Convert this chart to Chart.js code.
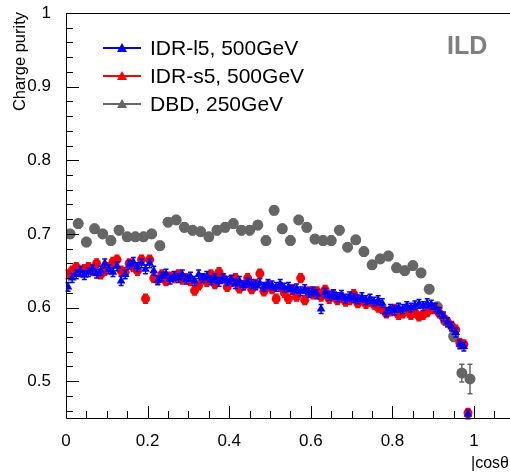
<!DOCTYPE html>
<html>
<head>
<meta charset="utf-8">
<script src="https://cdn.jsdelivr.net/npm/chart.js@4.4.1/dist/chart.umd.min.js"></script>
<style>
  body { margin: 0; background: #fff; }
  #wrap { width: 510px; height: 476px; position: relative; }
</style>
</head>
<body>
<div id="wrap"><canvas id="myChart"></canvas></div>
<script>
// bin centres (0.01 wide for IDR, 0.02 wide for DBD)
const fineBins = Array.from({ length: 100 }, (_, i) => +(0.005 + 0.01 * i).toFixed(3));
const coarseBins = Array.from({ length: 50 }, (_, i) => +(0.01 + 0.02 * i).toFixed(2));

const idrL5 = [
  0.628, 0.640, 0.645, 0.650, 0.644, 0.648, 0.652, 0.646, 0.650, 0.660,
  0.652, 0.648, 0.656, 0.636, 0.645, 0.658, 0.662, 0.655, 0.660, 0.652,
  0.660, 0.650, 0.637, 0.642, 0.646, 0.638, 0.643, 0.640, 0.645, 0.638,
  0.642, 0.636, 0.645, 0.640, 0.643, 0.637, 0.640, 0.635, 0.640, 0.636,
  0.638, 0.632, 0.636, 0.630, 0.634, 0.632, 0.630, 0.633, 0.628, 0.632,
  0.630, 0.628, 0.632, 0.627, 0.628, 0.624, 0.626, 0.622, 0.625, 0.620,
  0.622, 0.618, 0.598, 0.620, 0.616, 0.618, 0.614, 0.617, 0.612, 0.615,
  0.613, 0.611, 0.614, 0.610, 0.612, 0.608, 0.610, 0.606, 0.594, 0.598,
  0.596, 0.600, 0.598, 0.602, 0.600, 0.603, 0.605, 0.602, 0.606, 0.604,
  0.600, 0.594, 0.588, 0.580, 0.574, 0.566, 0.550, 0.547, 0.455, null
];
const idrS5 = [
  0.645, 0.650, 0.655, 0.648, 0.652, 0.655, 0.650, 0.660, 0.645, 0.650,
  0.655, 0.662, 0.665, 0.650, 0.648, 0.660, 0.655, 0.650, 0.665, 0.612,
  0.665, 0.640, 0.638, 0.645, 0.636, 0.642, 0.640, 0.645, 0.638, 0.640,
  0.636, 0.623, 0.630, 0.640, 0.635, 0.645, 0.632, 0.648, 0.640, 0.628,
  0.635, 0.640, 0.626, 0.630, 0.640, 0.625, 0.632, 0.646, 0.622, 0.630,
  0.625, 0.612, 0.628, 0.620, 0.612, 0.625, 0.615, 0.640, 0.610, 0.622,
  0.618, 0.622, 0.615, 0.624, 0.612, 0.618, 0.610, 0.614, 0.608, 0.610,
  0.618, 0.606, 0.610, 0.605, 0.608, 0.604, 0.600, 0.598, 0.592, 0.595,
  0.598, 0.590, 0.592, 0.596, 0.590, 0.593, 0.588, 0.590, 0.594, 0.598,
  0.598, 0.592, 0.586, 0.580, 0.575, 0.570, 0.552, 0.550, 0.457, null
];
const dbd = [
  0.700, 0.714, 0.689, 0.707, 0.700, 0.691, 0.705, 0.696, 0.696, 0.696,
  0.700, 0.684, 0.716, 0.719, 0.709, 0.705, 0.703, 0.696, 0.705, 0.709,
  0.714, 0.705, 0.705, 0.712, 0.691, 0.732, 0.707, 0.691, 0.719, 0.709,
  0.693, 0.691, 0.691, 0.705, 0.682, 0.692, 0.676, 0.658, 0.666, 0.670,
  0.654, 0.650, 0.657, 0.647, 0.625, 0.601, 0.582, 0.561, 0.511, 0.503
];
const idrErr = 0.006;
const dbdErr = [
  0.006, 0.006, 0.006, 0.006, 0.006, 0.006, 0.006, 0.006, 0.006, 0.006,
  0.006, 0.006, 0.006, 0.006, 0.006, 0.006, 0.006, 0.006, 0.006, 0.006,
  0.006, 0.006, 0.006, 0.006, 0.006, 0.006, 0.006, 0.006, 0.006, 0.006,
  0.006, 0.006, 0.006, 0.006, 0.006, 0.006, 0.006, 0.006, 0.006, 0.006,
  0.006, 0.006, 0.006, 0.006, 0.006, 0.006, 0.006, 0.007, 0.012, 0.020
];

const xTicks = [0, 0.2, 0.4, 0.6, 0.8, 1];
const yTicks = [0.5, 0.6, 0.7, 0.8, 0.9, 1];
const legendNames = ["IDR-l5, 500GeV", "IDR-s5, 500GeV", "DBD, 250GeV"];
const colors = ["#0000ff", "#ff0000", "#666666"];

const FONT = "'Liberation Sans', Arial, Helvetica, sans-serif";

const toPoints = (xs, ys) => xs.map((x, i) => ({ x: x, y: ys[i] })).filter((p) => p.y !== null);

// error bars, drawn under each dataset's markers
const errorBars = {
  id: "errorBars",
  beforeDatasetDraw(chart, args) {
    const ds = chart.data.datasets[args.index];
    const { ctx, scales } = chart;
    ctx.save();
    ctx.strokeStyle = ds.borderColor;
    ctx.lineWidth = 1.5;
    ds.data.forEach((p, i) => {
      const e = Array.isArray(ds.errors) ? ds.errors[i] : ds.errors;
      const px = scales.x.getPixelForValue(p.x);
      const top = scales.y.getPixelForValue(p.y + e);
      const bot = scales.y.getPixelForValue(p.y - e);
      ctx.beginPath();
      ctx.moveTo(px, top);
      ctx.lineTo(px, bot);
      ctx.moveTo(px - 2.5, top);
      ctx.lineTo(px + 2.5, top);
      ctx.moveTo(px - 2.5, bot);
      ctx.lineTo(px + 2.5, bot);
      ctx.stroke();
    });
    ctx.restore();
  },
};

// ROOT-like frame with inner ticks, legend and titles
const frame = {
  id: "frame",
  afterDraw(chart) {
    const { ctx, chartArea: a, scales } = chart;
    ctx.save();
    ctx.strokeStyle = "#000";
    ctx.lineWidth = 1;
    ctx.beginPath();
    ctx.moveTo(a.left + 0.5, a.top + 0.5);
    ctx.lineTo(a.right, a.top + 0.5);
    ctx.moveTo(a.left + 0.5, a.top);
    ctx.lineTo(a.left + 0.5, a.bottom + 0.5);
    ctx.lineTo(a.right, a.bottom + 0.5);
    // x ticks every 0.05
    for (let k = 1; k * 0.05 < scales.x.max; k++) {
      const v = k * 0.05;
      const px = Math.round(scales.x.getPixelForValue(v)) + 0.5;
      const len = k % 4 === 0 ? 12 : 7;
      ctx.moveTo(px, a.bottom);
      ctx.lineTo(px, a.bottom - len);
    }
    // y ticks every 0.02
    for (let k = 23; k <= 50; k++) {
      const v = k * 0.02;
      if (v < scales.y.min) continue;
      const py = Math.round(scales.y.getPixelForValue(v)) + 0.5;
      const len = k % 5 === 0 ? 13 : 7;
      ctx.moveTo(a.left, py);
      ctx.lineTo(a.left + len, py);
    }
    ctx.stroke();

    // legend
    const rows = [48, 76, 104];
    legendNames.forEach((name, i) => {
      const y = rows[i];
      ctx.strokeStyle = colors[i];
      ctx.fillStyle = colors[i];
      ctx.lineWidth = 2;
      ctx.beginPath();
      ctx.moveTo(103, y);
      ctx.lineTo(141, y);
      ctx.stroke();
      ctx.beginPath();
      ctx.moveTo(122, y - 5);
      ctx.lineTo(127, y + 4);
      ctx.lineTo(117, y + 4);
      ctx.closePath();
      ctx.fill();
      ctx.fillStyle = "#000";
      ctx.font = "21px " + FONT;
      ctx.textBaseline = "alphabetic";
      ctx.textAlign = "left";
      ctx.fillText(name, 150, y + 7);
    });

    // ILD label
    ctx.fillStyle = "#7f7f7f";
    ctx.font = "bold 25px " + FONT;
    ctx.fillText("ILD", 447, 54);

    // axis titles
    ctx.fillStyle = "#000";
    ctx.font = "16px " + FONT;
    ctx.textAlign = "left";
    ctx.fillText("|cos\u03b8", 471, 468);
    ctx.translate(25, 12);
    ctx.rotate(-Math.PI / 2);
    ctx.font = "16.5px " + FONT;
    ctx.textAlign = "right";
    ctx.fillText("Charge purity", 0, 0);
    ctx.restore();
  },
};

const myChart = new Chart(document.querySelector("#myChart"), {
  type: "scatter",
  data: {
    datasets: [
      {
        label: legendNames[0],
        data: toPoints(fineBins, idrL5),
        errors: idrErr,
        borderColor: colors[0],
        backgroundColor: colors[0],
        pointStyle: "triangle",
        pointRadius: 5,
        borderWidth: 0,
      },
      {
        label: legendNames[1],
        data: toPoints(fineBins, idrS5),
        errors: idrErr,
        borderColor: colors[1],
        backgroundColor: colors[1],
        pointStyle: "circle",
        pointRadius: 4.5,
        borderWidth: 0,
      },
      {
        label: legendNames[2],
        data: toPoints(coarseBins, dbd),
        errors: dbdErr,
        borderColor: colors[2],
        backgroundColor: colors[2],
        pointStyle: "circle",
        pointRadius: 5.5,
        borderWidth: 0,
      },
    ],
  },
  options: {
    responsive: true,
    maintainAspectRatio: false,
    animation: false,
    layout: { autoPadding: false, padding: { top: 13, left: 0, right: 0, bottom: 0 } },
    plugins: { legend: { display: false }, tooltip: { enabled: false } },
    scales: {
      x: {
        type: "linear",
        min: 0,
        max: 1.088,
        grid: { display: false },
        border: { display: false },
        afterBuildTicks: (axis) => { axis.ticks = xTicks.map((v) => ({ value: v })); },
        afterFit: (s) => { s.height = 58; s.paddingLeft = 0; s.paddingRight = 0; },
        ticks: {
          padding: 5,
          color: "#000",
          font: { family: FONT, size: 17 },
          maxRotation: 0,
          callback: (v) => String(+v.toFixed(1)),
        },
      },
      y: {
        min: 0.45,
        max: 1,
        grid: { display: false },
        border: { display: false },
        afterBuildTicks: (axis) => { axis.ticks = yTicks.map((v) => ({ value: v })); },
        afterFit: (s) => { s.width = 66; s.paddingTop = 0; s.paddingBottom = 0; },
        ticks: {
          padding: 7,
          color: "#000",
          font: { family: FONT, size: 17 },
          callback: (v) => String(+v.toFixed(1)),
        },
      },
    },
  },
  plugins: [errorBars, frame],
});
</script>
</body>
</html>
